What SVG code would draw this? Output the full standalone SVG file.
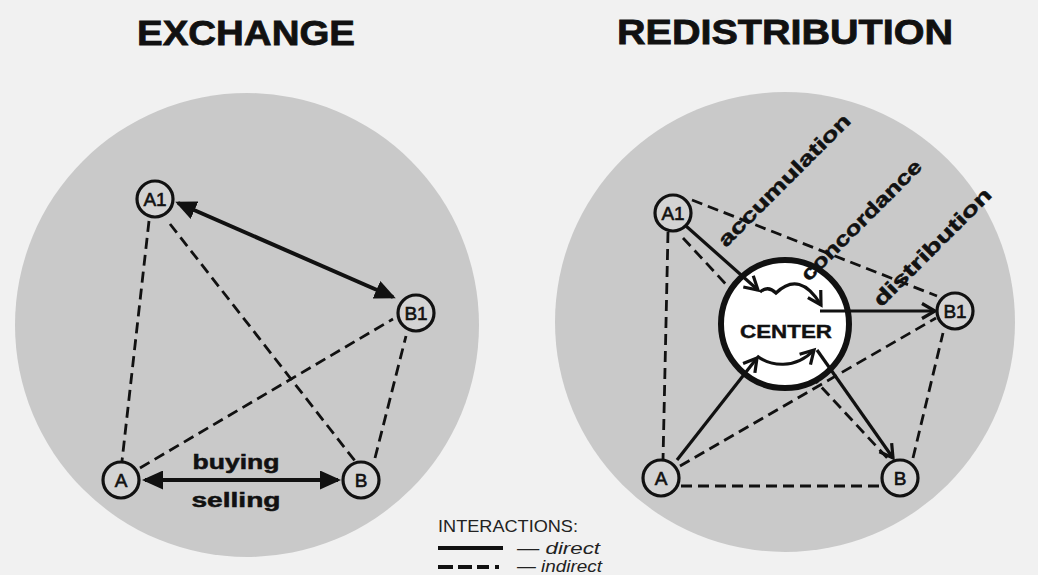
<svg xmlns="http://www.w3.org/2000/svg" width="1038" height="575" viewBox="0 0 1038 575">
<style>
.bg{fill:#f1f1f1}
.disk{fill:#c9c9c9}
.node circle{fill:#d3d3d3;stroke:#111;stroke-width:3.2}
.node text{font-family:"Liberation Sans",Arial,sans-serif;font-size:19px;fill:#111;stroke:#111;stroke-width:0.6;text-anchor:middle}
.title{font-family:"Liberation Sans",Arial,sans-serif;font-weight:bold;font-size:35px;fill:#111;stroke:#111;stroke-width:0.8;text-anchor:middle}
.lbl{font-family:"Liberation Sans",Arial,sans-serif;font-weight:bold;font-size:20px;fill:#111;stroke:#111;stroke-width:0.5;text-anchor:middle}
.dash{fill:none;stroke:#111;stroke-width:2.8;stroke-dasharray:11 6}
.solidL{fill:none;stroke:#111;stroke-width:4}
.solidR{fill:none;stroke:#111;stroke-width:3.2}
.leg{font-family:"Liberation Sans",Arial,sans-serif;font-size:17px;fill:#222}
</style>
<defs>
<marker id="tri" markerUnits="userSpaceOnUse" viewBox="0 0 21 19" refX="18" refY="9.5" markerWidth="21" markerHeight="19" orient="auto-start-reverse">
<path d="M0,0 L21,9.5 L0,19 z" fill="#111"/>
</marker>
<marker id="chev" markerUnits="userSpaceOnUse" viewBox="-16 -10 18 20" refX="0" refY="0" markerWidth="18" markerHeight="20" orient="auto" style="overflow:visible">
<path d="M-13,-7.5 L0,0 L-13,7.5" fill="none" stroke="#111" stroke-width="3.2" stroke-linejoin="miter"/>
</marker>
</defs>
<rect class="bg" x="0" y="0" width="1038" height="575"/>
<circle class="disk" cx="247" cy="325" r="232"/>
<circle class="disk" cx="785" cy="322" r="230"/>
<text class="title" x="246" y="45" textLength="218" lengthAdjust="spacingAndGlyphs">EXCHANGE</text>
<text class="title" x="785" y="44" textLength="336" lengthAdjust="spacingAndGlyphs">REDISTRIBUTION</text>

<g id="connectors-exchange">
<line class="dash" x1="149" y1="221" x2="122" y2="461"/>
<line class="dash" x1="170" y1="224" x2="355" y2="461"/>
<line class="dash" x1="140" y1="468" x2="393" y2="319"/>
<line class="dash" x1="375" y1="458" x2="406" y2="336"/>
<line class="solidL" x1="178" y1="203" x2="393" y2="297" marker-start="url(#tri)" marker-end="url(#tri)"/>
<line class="solidL" x1="145" y1="480" x2="338" y2="480" marker-start="url(#tri)" marker-end="url(#tri)"/>
</g>
<text class="lbl" x="236" y="469" textLength="87" lengthAdjust="spacingAndGlyphs">buying</text>
<text class="lbl" x="236" y="507" textLength="89" lengthAdjust="spacingAndGlyphs">selling</text>

<g id="node-ex-A1" class="node"><circle cx="155" cy="199" r="18"/><text x="155" y="206">A1</text></g>
<g id="node-ex-B1" class="node"><circle cx="416" cy="313" r="18"/><text x="416" y="320">B1</text></g>
<g id="node-ex-A" class="node"><circle cx="121" cy="480" r="18"/><text x="121" y="487">A</text></g>
<g id="node-ex-B" class="node"><circle cx="361" cy="480" r="18"/><text x="361" y="487">B</text></g>

<g id="connectors-redistribution">
<line class="dash" x1="668" y1="232" x2="663" y2="460"/>
<line class="dash" x1="692" y1="200" x2="937" y2="296"/>
<line class="dash" x1="683" y1="238" x2="890" y2="461"/>
<line class="dash" x1="680" y1="466" x2="936" y2="318"/>
<line class="dash" x1="681" y1="486" x2="882" y2="486"/>
<line class="dash" x1="913" y1="458" x2="943" y2="333"/>
</g>

<g id="node-center">
<circle cx="785" cy="324" r="64" fill="#fff" stroke="#111" stroke-width="6"/>
<text x="786" y="338" font-family="Liberation Sans,Arial,sans-serif" font-weight="bold" font-size="18" fill="#111" stroke="#111" stroke-width="0.4" text-anchor="middle" textLength="92" lengthAdjust="spacingAndGlyphs">CENTER</text>
</g>

<g id="connectors-redistribution-solid">
<line class="solidR" x1="686" y1="226" x2="758" y2="290" marker-end="url(#chev)"/>
<path class="solidR" d="M760,292 Q768,285 776,293 Q800,270 821,305" marker-end="url(#chev)"/>
<line class="solidR" x1="820" y1="311" x2="935" y2="311" marker-end="url(#chev)"/>
<line class="solidR" x1="677" y1="460" x2="757" y2="358" marker-end="url(#chev)"/>
<path class="solidR" d="M757,356 C770,366 795,370 814,350" marker-end="url(#chev)"/>
<line class="solidR" x1="817" y1="350" x2="893" y2="458" marker-end="url(#chev)"/>
</g>

<text class="lbl" transform="translate(789,185) rotate(-45)" textLength="178" lengthAdjust="spacingAndGlyphs">accumulation</text>
<text class="lbl" transform="translate(866,225) rotate(-45)" textLength="162" lengthAdjust="spacingAndGlyphs">concordance</text>
<text class="lbl" transform="translate(937,252) rotate(-45)" textLength="158" lengthAdjust="spacingAndGlyphs">distribution</text>

<g id="node-re-A1" class="node"><circle cx="673" cy="213" r="18"/><text x="673" y="220">A1</text></g>
<g id="node-re-B1" class="node"><circle cx="955" cy="311" r="18"/><text x="955" y="318">B1</text></g>
<g id="node-re-A" class="node"><circle cx="661" cy="478" r="18"/><text x="661" y="485">A</text></g>
<g id="node-re-B" class="node"><circle cx="900" cy="478" r="18"/><text x="900" y="485">B</text></g>

<g id="legend">
<text class="leg" x="438" y="532" font-size="18" textLength="140" lengthAdjust="spacingAndGlyphs">INTERACTIONS:</text>
<line x1="438" y1="548" x2="503" y2="548" stroke="#111" stroke-width="4"/>
<line x1="438" y1="567" x2="503" y2="567" stroke="#111" stroke-width="4" stroke-dasharray="15 5 14 5 12 6 4 40"/>
<text class="leg" x="517" y="554" font-size="18" textLength="83" lengthAdjust="spacingAndGlyphs">— <tspan font-style="italic">direct</tspan></text>
<text class="leg" x="517" y="572" font-size="18" textLength="85" lengthAdjust="spacingAndGlyphs">— <tspan font-style="italic">indirect</tspan></text>
</g>
</svg>
